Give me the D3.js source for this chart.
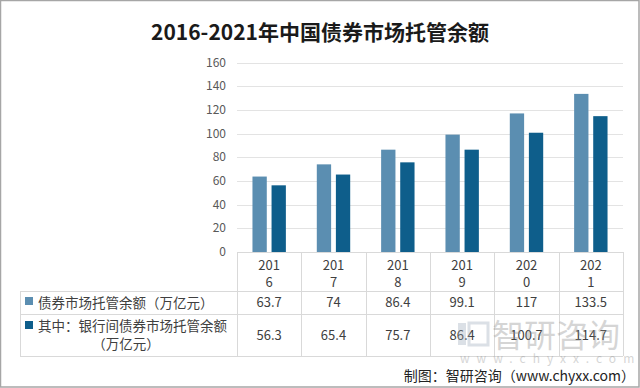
<!DOCTYPE html>
<html>
<head>
<meta charset="utf-8">
<script src="https://cdn.jsdelivr.net/npm/d3@7"></script>
<style>
  body { margin: 0; background: #fff; }
  svg { display: block; font-family: "Noto Sans CJK SC", "Open Sans", sans-serif; }
</style>
</head>
<body>
<div id="chart"></div>
<script>
const years = ["2016", "2017", "2018", "2019", "2020", "2021"];
const seriesNames = ["债券市场托管余额（万亿元）", "其中：银行间债券市场托管余额（万亿元）"];
const total = [63.7, 74, 86.4, 99.1, 117, 133.5];
const interbank = [56.3, 65.4, 75.7, 86.4, 100.7, 114.7];
const yTicks = [0, 20, 40, 60, 80, 100, 120, 140, 160];
const colors = ["#5b8eb1", "#0e5e8b"];

const width = 640, height = 388;
const margin = { top: 62.5, right: 17, bottom: 136, left: 237 };

const svg = d3.select("#chart").append("svg")
    .attr("width", width)
    .attr("height", height);

// frame
svg.append("rect")
    .attr("x", 0.5).attr("y", 0.5)
    .attr("width", width - 1.5).attr("height", height - 1.5)
    .style("fill", "none").style("stroke", "#a6a6a6").style("stroke-width", 1.5);

// title
svg.append("text")
    .attr("x", 320).attr("y", 40)
    .attr("text-anchor", "middle")
    .style("font-size", "21px").style("font-weight", "bold").style("fill", "#1a1a1a")
    .text("2016-2021年中国债券市场托管余额");

const x = d3.scaleBand()
    .domain(years)
    .range([margin.left, width - margin.right]);

const y = d3.scaleLinear()
    .domain([0, 160])
    .range([height - margin.bottom, margin.top]);

const inner = d3.scaleBand()
    .domain([0, 1])
    .range([-16.7, 16.7])
    .paddingInner(0.25);

// grid
svg.append("g")
    .selectAll("line")
    .data(yTicks)
    .enter()
    .append("line")
    .attr("x1", margin.left).attr("x2", width - margin.right)
    .attr("y1", d => Math.round(y(d)) + 0.5).attr("y2", d => Math.round(y(d)) + 0.5)
    .style("stroke", "#e3e3e3");

// y labels
svg.append("g")
    .selectAll("text")
    .data(yTicks)
    .enter()
    .append("text")
    .attr("x", 226)
    .attr("y", d => y(d) + 4)
    .attr("text-anchor", "end")
    .style("font-size", "12px").style("fill", "#595959")
    .text(d => d);

// bars
const series = [total, interbank];
series.forEach((vals, s) => {
    svg.append("g")
        .selectAll("rect")
        .data(vals)
        .enter()
        .append("rect")
        .attr("x", (d, i) => x(years[i]) + x.bandwidth() / 2 + inner(s))
        .attr("width", inner.bandwidth())
        .attr("y", d => y(d))
        .attr("height", d => y(0) - y(d))
        .style("fill", colors[s]);
});

// data table
const tableTop = y(0);
const row1Top = 291, row2Top = 313.5, tableBottom = 356;
const lineColor = "#d9d9d9";
const table = svg.append("g").style("stroke", lineColor).style("stroke-width", 1);

// verticals between categories
table.selectAll(".v")
    .data(years.concat(["end"]))
    .enter()
    .append("line")
    .attr("x1", (d, i) => Math.round(i < years.length ? x(d) : width - margin.right) + 0.5)
    .attr("x2", (d, i) => Math.round(i < years.length ? x(d) : width - margin.right) + 0.5)
    .attr("y1", tableTop).attr("y2", tableBottom);

// label column left edge
table.append("line")
    .attr("x1", 20.5).attr("x2", 20.5)
    .attr("y1", row1Top).attr("y2", tableBottom);

[row1Top, row2Top, tableBottom].forEach(yy => {
    table.append("line")
        .attr("x1", 20).attr("x2", width - margin.right)
        .attr("y1", Math.round(yy) + 0.5).attr("y2", Math.round(yy) + 0.5);
});

// axis line
svg.append("line")
    .attr("x1", margin.left).attr("x2", width - margin.right)
    .attr("y1", Math.round(tableTop) + 0.5).attr("y2", Math.round(tableTop) + 0.5)
    .style("stroke", lineColor);

// header years (wrapped)
const header = svg.append("g")
    .selectAll("text")
    .data(years)
    .enter()
    .append("text")
    .attr("text-anchor", "middle")
    .style("font-size", "13px").style("fill", "#404040");
header.append("tspan")
    .attr("x", d => x(d) + x.bandwidth() / 2).attr("y", 270)
    .text(d => d.slice(0, 3));
header.append("tspan")
    .attr("x", d => x(d) + x.bandwidth() / 2).attr("y", 287)
    .text(d => d.slice(3));

// values
const rowY = [307, 339.5];
series.forEach((vals, s) => {
    svg.append("g")
        .selectAll("text")
        .data(vals)
        .enter()
        .append("text")
        .attr("x", (d, i) => x(years[i]) + x.bandwidth() / 2)
        .attr("y", rowY[s])
        .attr("text-anchor", "middle")
        .style("font-size", "13px").style("fill", "#404040")
        .text(d => d);
});

// row labels with legend keys
svg.append("rect").attr("x", 25).attr("y", 297).attr("width", 8).attr("height", 8).style("fill", colors[0]);
svg.append("text").attr("x", 38).attr("y", 307.5)
    .style("font-size", "13.5px").style("fill", "#404040")
    .text(seriesNames[0]);

svg.append("rect").attr("x", 25).attr("y", 321).attr("width", 8).attr("height", 8).style("fill", colors[1]);
svg.append("text").attr("x", 38).attr("y", 331)
    .style("font-size", "13.5px").style("fill", "#404040")
    .text("其中：银行间债券市场托管余额");
svg.append("text").attr("x", 126).attr("y", 348.5)
    .attr("text-anchor", "middle")
    .style("font-size", "13.5px").style("fill", "#404040")
    .text("（万亿元）");

// watermark
const wm = svg.append("g").style("opacity", 0.35);
wm.append("rect").attr("x", 458).attr("y", 323).attr("width", 8).attr("height", 22).style("fill", "#9aa7b8");
wm.append("rect").attr("x", 469).attr("y", 323).attr("width", 19).attr("height", 22)
    .style("fill", "none").style("stroke", "#9aa7b8").style("stroke-width", 3);
wm.append("text").attr("x", 492).attr("y", 347)
    .style("font-size", "32px").style("fill", "#8a8a8a")
    .text("智研咨询");
wm.append("text").attr("x", 460).attr("y", 363)
    .style("font-size", "12px").style("letter-spacing", "7px").style("fill", "#8a8a8a")
    .text("www.chyxx.com");

// source
svg.append("text")
    .attr("x", 635).attr("y", 381)
    .attr("text-anchor", "end")
    .style("font-size", "14px").style("fill", "#222")
    .text("制图：智研咨询（www.chyxx.com）");
</script>
</body>
</html>
